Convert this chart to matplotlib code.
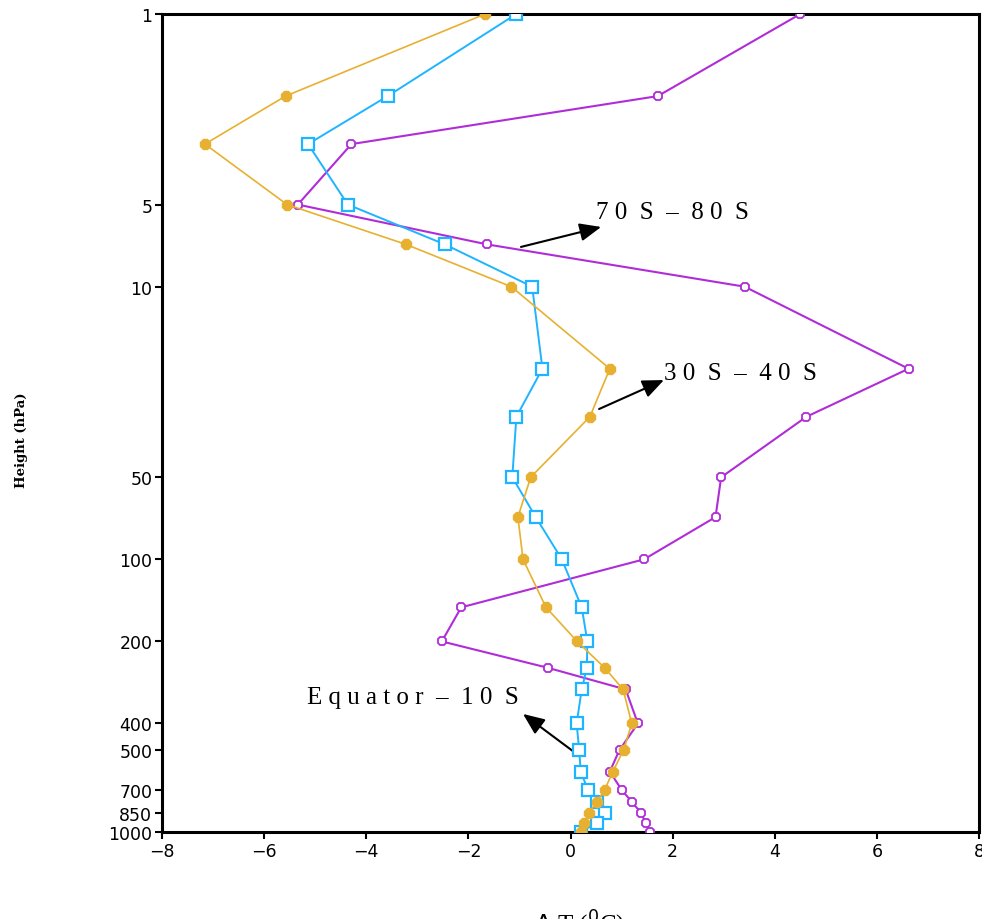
import matplotlib
matplotlib.use("Agg")
import matplotlib.pyplot as plt
import numpy as np

# Pressure levels (hPa)
levels = [1, 2, 3, 5, 7, 10, 20, 30, 50, 70, 100, 150, 200, 250, 300,
          400, 500, 600, 700, 775, 850, 925, 1000]

# Delta T (deg C) for each latitude band
eq_10s = [-1.06, -3.58, -5.14, -4.36, -2.46, -0.75, -0.55, -1.06, -1.14, -0.68,
          -0.17, 0.22, 0.33, 0.32, 0.22, 0.12, 0.17, 0.20, 0.34, 0.52, 0.67,
          0.52, 0.20]
s30_40 = [-1.67, -5.58, -7.16, -5.55, -3.22, -1.16, 0.77, 0.38, -0.78, -1.03,
          -0.93, -0.48, 0.13, 0.67, 1.03, 1.20, 1.04, 0.83, 0.67, 0.52, 0.36,
          0.27, 0.20]
s70_80 = [4.50, 1.71, -4.29, -5.34, -1.63, 3.41, 6.62, 4.62, 2.95, 2.84,
          1.44, -2.14, -2.52, -0.44, 1.08, 1.32, 0.96, 0.77, 1.00, 1.20, 1.38,
          1.47, 1.55]

ytick_vals = [1, 5, 10, 50, 100, 200, 400, 500, 700, 850, 1000]
xtick_vals = [-8, -6, -4, -2, 0, 2, 4, 6, 8]

c_orange = "#E8B030"
c_blue = "#1EB4FF"
c_purple = "#B02CD8"

fig = plt.figure(figsize=(9.82, 9.2), dpi=100)
ax = fig.add_axes([162/982, 1-833/920, (979-162)/982, (833-15)/920])

ax.plot(s70_80, levels, color=c_purple, lw=1.5, marker="8", ms=7,
        mfc="white", mec=c_purple, mew=1.3, zorder=3)
ax.plot(eq_10s, levels, color=c_blue, lw=1.4, marker="s", ms=9,
        mfc="white", mec=c_blue, mew=1.6, zorder=4)
ax.plot(s30_40, levels, color=c_orange, lw=1.2, marker="8", ms=8.5,
        mfc=c_orange, mec=c_orange, zorder=5)

ax.set_yscale("log")
ax.set_ylim(1000, 1)
ax.set_xlim(-8, 8)
ax.set_yticks(ytick_vals)
ax.set_yticklabels([str(v) for v in ytick_vals])
ax.yaxis.set_minor_locator(matplotlib.ticker.NullLocator())
ax.set_xticks(xtick_vals)
ax.set_xticklabels([("\u2212" + str(-v)) if v < 0 else str(v) for v in xtick_vals])

for s in ax.spines.values():
    s.set_linewidth(2.2)
ax.tick_params(axis="both", direction="out", length=5, width=1.5,
               labelsize=12.5, pad=2)

# Annotations
txt_kw = dict(fontfamily="Liberation Serif", fontsize=18, color="black", va="center")
ax.text(0.50, 5.32, "7 0  S  \u2013  8 0  S", **txt_kw)
ax.text(1.83, 20.7, "3 0  S  \u2013  4 0  S", **txt_kw)
ax.text(-5.17, 320, "E q u a t o r  \u2013  1 0  S", **txt_kw)

arr = dict(arrowstyle="-|>,head_length=1.3,head_width=0.55", color="black", lw=1.5,
           shrinkA=0, shrinkB=0)
ax.annotate("", xy=(0.60, 6.04), xytext=(-0.97, 7.15), arrowprops=arr)
ax.annotate("", xy=(1.83, 22.0), xytext=(0.56, 28.1), arrowprops=arr)
ax.annotate("", xy=(-0.93, 369), xytext=(0.09, 512), arrowprops=arr)

fig.text(22/982, 1-440/920, "Height (hPa)", rotation=90, fontfamily="DejaVu Serif",
         fontweight="bold", fontsize=9.5, ha="center", va="center")
fig.text(580/982, 1-909/920, r"$\Delta$ T ($^{0}$C)", fontfamily="Liberation Serif",
         fontsize=18, ha="center", va="top")

fig.savefig("out.png", dpi=100)
